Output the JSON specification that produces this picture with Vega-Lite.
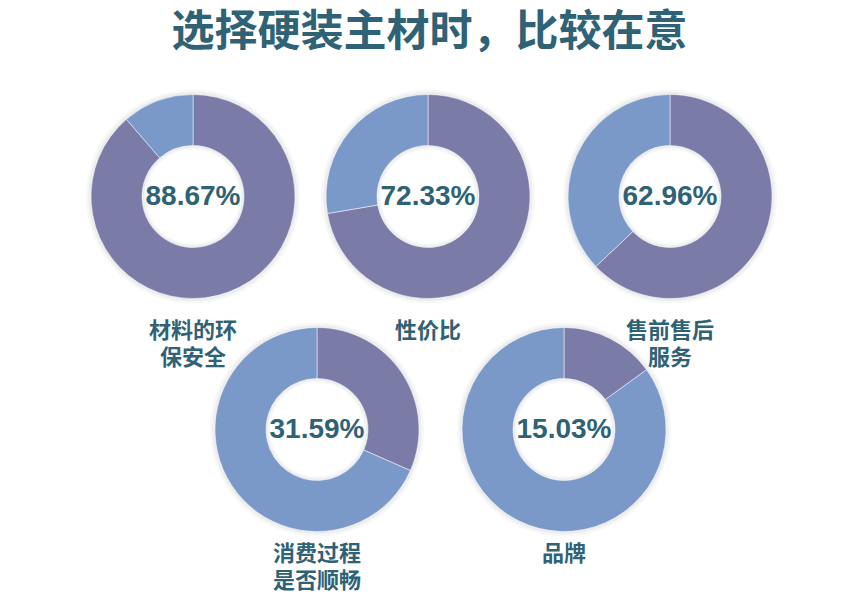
{
  "$schema": "https://vega.github.io/schema/vega-lite/v6.json",
  "background": "#ffffff",
  "padding": {"left": 86, "top": 11, "right": 20, "bottom": 0},
  "title": {"text": "选择硬装主材时，比较在意", "font": "Noto Sans CJK SC", "fontSize": 43, "fontWeight": "bold", "color": "#2F6275", "anchor": "middle", "offset": 25.5, "dx": -2, "frame": "bounds"},
  "datasets": {
    "d": [
      {"name": "材料的环\n保安全", "part": "chosen", "value": 0.8867},
      {"name": "材料的环\n保安全", "part": "other", "value": 0.1133},
      {"name": "性价比", "part": "chosen", "value": 0.7233},
      {"name": "性价比", "part": "other", "value": 0.2767},
      {"name": "售前售后\n服务", "part": "chosen", "value": 0.6296},
      {"name": "售前售后\n服务", "part": "other", "value": 0.3704},
      {"name": "消费过程\n是否顺畅", "part": "chosen", "value": 0.3159},
      {"name": "消费过程\n是否顺畅", "part": "other", "value": 0.6841},
      {"name": "品牌", "part": "chosen", "value": 0.1503},
      {"name": "品牌", "part": "other", "value": 0.8497}
    ]
  },
  "data": {"name": "d"},
  "spacing": 0,
  "bounds": "flush",
  "hconcat": [
    {
      "width": 150, "height": 466,
      "transform": [{"filter": {"field": "name", "equal": "材料的环\n保安全"}}],
      "encoding": {"y": {"datum": "上", "type": "nominal", "scale": {"type": "point", "domain": ["上", "下"], "padding": 0.5}, "axis": null}},
      "layer": [
        {"transform": [{"filter": {"field": "part", "equal": "chosen"}}], "mark": {"type": "arc", "outerRadius": 107, "innerRadius": 47, "color": "#000000", "opacity": 0.03}, "encoding": {}},
        {"transform": [{"filter": {"field": "part", "equal": "chosen"}}], "mark": {"type": "arc", "outerRadius": 104.5, "innerRadius": 49, "color": "#000000", "opacity": 0.04}, "encoding": {}},
        {"mark": {"type": "arc", "outerRadius": 102, "innerRadius": 51, "stroke": "#ffffff", "strokeWidth": 0.5},
         "encoding": {"theta": {"field": "value", "type": "quantitative", "stack": true}, "color": {"field": "part", "type": "nominal", "scale": {"domain": ["chosen", "other"], "range": ["#7B7BA8", "#7A99C8"]}, "legend": null}, "order": {"field": "part", "sort": "ascending"}}},
        {"transform": [{"filter": {"field": "part", "equal": "chosen"}}], "mark": {"type": "text", "font": "Liberation Sans", "fontWeight": "bold", "fontSize": 28, "color": "#2F6275", "baseline": "middle", "align": "center"}, "encoding": {"text": {"field": "value", "type": "quantitative", "format": ".2%"}}},
        {"transform": [{"filter": {"field": "part", "equal": "chosen"}}], "mark": {"type": "text", "font": "Noto Sans CJK SC", "fontWeight": "bold", "fontSize": 22, "color": "#2F6275", "baseline": "top", "align": "center", "dy": 124, "lineBreak": "\n", "lineHeight": 27}, "encoding": {"text": {"field": "name", "type": "nominal"}}}
      ]
    },
    {
      "width": 98, "height": 466,
      "transform": [{"filter": {"field": "name", "equal": "消费过程\n是否顺畅"}}],
      "encoding": {"y": {"datum": "下", "type": "nominal", "scale": {"type": "point", "domain": ["上", "下"], "padding": 0.5}, "axis": null}},
      "layer": [
        {"transform": [{"filter": {"field": "part", "equal": "chosen"}}], "mark": {"type": "arc", "outerRadius": 107, "innerRadius": 47, "color": "#000000", "opacity": 0.03}, "encoding": {}},
        {"transform": [{"filter": {"field": "part", "equal": "chosen"}}], "mark": {"type": "arc", "outerRadius": 104.5, "innerRadius": 49, "color": "#000000", "opacity": 0.04}, "encoding": {}},
        {"mark": {"type": "arc", "outerRadius": 102, "innerRadius": 51, "stroke": "#ffffff", "strokeWidth": 0.5},
         "encoding": {"theta": {"field": "value", "type": "quantitative", "stack": true}, "color": {"field": "part", "type": "nominal", "scale": {"domain": ["chosen", "other"], "range": ["#7B7BA8", "#7A99C8"]}, "legend": null}, "order": {"field": "part", "sort": "ascending"}}},
        {"transform": [{"filter": {"field": "part", "equal": "chosen"}}], "mark": {"type": "text", "font": "Liberation Sans", "fontWeight": "bold", "fontSize": 28, "color": "#2F6275", "baseline": "middle", "align": "center"}, "encoding": {"text": {"field": "value", "type": "quantitative", "format": ".2%"}}},
        {"transform": [{"filter": {"field": "part", "equal": "chosen"}}], "mark": {"type": "text", "font": "Noto Sans CJK SC", "fontWeight": "bold", "fontSize": 22, "color": "#2F6275", "baseline": "top", "align": "center", "dy": 114, "lineBreak": "\n", "lineHeight": 27}, "encoding": {"text": {"field": "name", "type": "nominal"}}}
      ]
    },
    {
      "width": 124, "height": 466,
      "transform": [{"filter": {"field": "name", "equal": "性价比"}}],
      "encoding": {"y": {"datum": "上", "type": "nominal", "scale": {"type": "point", "domain": ["上", "下"], "padding": 0.5}, "axis": null}},
      "layer": [
        {"transform": [{"filter": {"field": "part", "equal": "chosen"}}], "mark": {"type": "arc", "outerRadius": 107, "innerRadius": 47, "color": "#000000", "opacity": 0.03}, "encoding": {}},
        {"transform": [{"filter": {"field": "part", "equal": "chosen"}}], "mark": {"type": "arc", "outerRadius": 104.5, "innerRadius": 49, "color": "#000000", "opacity": 0.04}, "encoding": {}},
        {"mark": {"type": "arc", "outerRadius": 102, "innerRadius": 51, "stroke": "#ffffff", "strokeWidth": 0.5},
         "encoding": {"theta": {"field": "value", "type": "quantitative", "stack": true}, "color": {"field": "part", "type": "nominal", "scale": {"domain": ["chosen", "other"], "range": ["#7B7BA8", "#7A99C8"]}, "legend": null}, "order": {"field": "part", "sort": "ascending"}}},
        {"transform": [{"filter": {"field": "part", "equal": "chosen"}}], "mark": {"type": "text", "font": "Liberation Sans", "fontWeight": "bold", "fontSize": 28, "color": "#2F6275", "baseline": "middle", "align": "center"}, "encoding": {"text": {"field": "value", "type": "quantitative", "format": ".2%"}}},
        {"transform": [{"filter": {"field": "part", "equal": "chosen"}}], "mark": {"type": "text", "font": "Noto Sans CJK SC", "fontWeight": "bold", "fontSize": 22, "color": "#2F6275", "baseline": "top", "align": "center", "dy": 124, "lineBreak": "\n", "lineHeight": 27}, "encoding": {"text": {"field": "name", "type": "nominal"}}}
      ]
    },
    {
      "width": 148, "height": 466,
      "transform": [{"filter": {"field": "name", "equal": "品牌"}}],
      "encoding": {"y": {"datum": "下", "type": "nominal", "scale": {"type": "point", "domain": ["上", "下"], "padding": 0.5}, "axis": null}},
      "layer": [
        {"transform": [{"filter": {"field": "part", "equal": "chosen"}}], "mark": {"type": "arc", "outerRadius": 107, "innerRadius": 47, "color": "#000000", "opacity": 0.03}, "encoding": {}},
        {"transform": [{"filter": {"field": "part", "equal": "chosen"}}], "mark": {"type": "arc", "outerRadius": 104.5, "innerRadius": 49, "color": "#000000", "opacity": 0.04}, "encoding": {}},
        {"mark": {"type": "arc", "outerRadius": 102, "innerRadius": 51, "stroke": "#ffffff", "strokeWidth": 0.5},
         "encoding": {"theta": {"field": "value", "type": "quantitative", "stack": true}, "color": {"field": "part", "type": "nominal", "scale": {"domain": ["chosen", "other"], "range": ["#7B7BA8", "#7A99C8"]}, "legend": null}, "order": {"field": "part", "sort": "ascending"}}},
        {"transform": [{"filter": {"field": "part", "equal": "chosen"}}], "mark": {"type": "text", "font": "Liberation Sans", "fontWeight": "bold", "fontSize": 28, "color": "#2F6275", "baseline": "middle", "align": "center"}, "encoding": {"text": {"field": "value", "type": "quantitative", "format": ".2%"}}},
        {"transform": [{"filter": {"field": "part", "equal": "chosen"}}], "mark": {"type": "text", "font": "Noto Sans CJK SC", "fontWeight": "bold", "fontSize": 22, "color": "#2F6275", "baseline": "top", "align": "center", "dy": 114, "lineBreak": "\n", "lineHeight": 27}, "encoding": {"text": {"field": "name", "type": "nominal"}}}
      ]
    },
    {
      "width": 64, "height": 466,
      "transform": [{"filter": {"field": "name", "equal": "售前售后\n服务"}}],
      "encoding": {"y": {"datum": "上", "type": "nominal", "scale": {"type": "point", "domain": ["上", "下"], "padding": 0.5}, "axis": null}},
      "layer": [
        {"transform": [{"filter": {"field": "part", "equal": "chosen"}}], "mark": {"type": "arc", "outerRadius": 107, "innerRadius": 47, "color": "#000000", "opacity": 0.03}, "encoding": {}},
        {"transform": [{"filter": {"field": "part", "equal": "chosen"}}], "mark": {"type": "arc", "outerRadius": 104.5, "innerRadius": 49, "color": "#000000", "opacity": 0.04}, "encoding": {}},
        {"mark": {"type": "arc", "outerRadius": 102, "innerRadius": 51, "stroke": "#ffffff", "strokeWidth": 0.5},
         "encoding": {"theta": {"field": "value", "type": "quantitative", "stack": true}, "color": {"field": "part", "type": "nominal", "scale": {"domain": ["chosen", "other"], "range": ["#7B7BA8", "#7A99C8"]}, "legend": null}, "order": {"field": "part", "sort": "ascending"}}},
        {"transform": [{"filter": {"field": "part", "equal": "chosen"}}], "mark": {"type": "text", "font": "Liberation Sans", "fontWeight": "bold", "fontSize": 28, "color": "#2F6275", "baseline": "middle", "align": "center"}, "encoding": {"text": {"field": "value", "type": "quantitative", "format": ".2%"}}},
        {"transform": [{"filter": {"field": "part", "equal": "chosen"}}], "mark": {"type": "text", "font": "Noto Sans CJK SC", "fontWeight": "bold", "fontSize": 22, "color": "#2F6275", "baseline": "top", "align": "center", "dy": 124, "lineBreak": "\n", "lineHeight": 27}, "encoding": {"text": {"field": "name", "type": "nominal"}}}
      ]
    }
  ],
  "config": {"view": {"stroke": null}}
}
